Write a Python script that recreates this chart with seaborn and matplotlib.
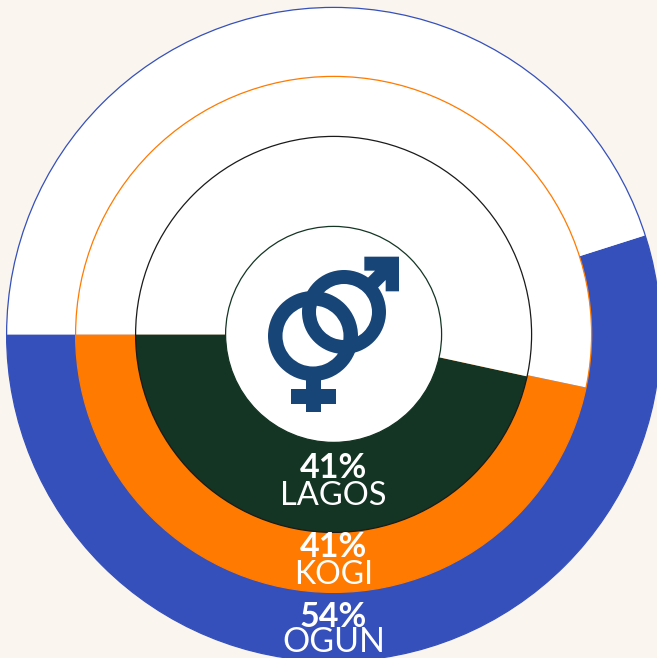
import matplotlib
matplotlib.use("Agg")
import matplotlib.pyplot as plt
from matplotlib.patches import Annulus, Circle, Polygon, Rectangle
import seaborn as sns

sns.set_theme(style="white")
plt.rcParams['font.family'] = ['Lato', 'DejaVu Sans']

# Data: rings from outside to inside; shares are the drawn sweep of each ring
states = ["OGUN", "KOGI", "LAGOS"]
labels = ["54%", "41%", "41%"]
shares = [54.9, 46.7, 46.6]
palette = ["#3550BB", "#FF7A00", "#143524"]
outlines = ["#3550BB", "#FF7A00", "#1A1A1A"]

BG = "#FAF5EF"
NAVY = "#174578"
W, H = 657, 658
CX, CY = 333.6, 334.4
radii = [327, 258, 198]
label_base = [(627, 652), (557, 584), (478, 505)]
name_size = [24.5, 23, 23.5]

def Y(py):
    return H - py

fig = plt.figure(figsize=(W / 100, H / 100), dpi=100, facecolor=BG)
ax = fig.add_axes([0, 0, 1, 1])

for share, color, edge, r in zip(shares, palette, outlines, radii):
    ax.pie([share, 100 - share], colors=[color, "white"], radius=r,
           center=(CX, Y(CY)), startangle=180, counterclock=True,
           wedgeprops=dict(linewidth=0))
    ax.add_patch(Circle((CX, Y(CY)), r, fill=False, ec=edge, lw=0.9, zorder=3))

# centre disc
ax.add_patch(Circle((CX, Y(CY)), 108, fc="white", ec=palette[2], lw=0.9, zorder=4))

# gender icon
ax.add_patch(Annulus((344, Y(312)), 42, 14, fc=NAVY, ec="none", zorder=5))
ax.add_patch(Annulus((313, Y(336)), 45, 14.5, fc=NAVY, ec="none", zorder=5))
ax.add_patch(Rectangle((306, Y(412)), 15, 33, fc=NAVY, ec="none", zorder=5))
ax.add_patch(Rectangle((291, Y(404)), 45, 15, fc=NAVY, ec="none", zorder=5))
arrow = [(433, 80), (537, 80), (537, 184), (497, 184), (497, 150), (470, 177),
         (441, 146), (465, 122), (433, 122)]
ax.add_patch(Polygon([(220 + x / 3, Y(230 + y / 3)) for x, y in arrow],
                     closed=True, fc=NAVY, ec="none", zorder=5))

# labels
for state, label, (b1, b2), fs in zip(states, labels, label_base, name_size):
    ax.text(CX, Y(b1), label, color="white", fontsize=24.5, fontweight="bold",
            ha="center", va="baseline", zorder=6)
    ax.text(CX, Y(b2), state, color="white", fontsize=fs,
            ha="center", va="baseline", zorder=6)

ax.set_xlim(0, W)
ax.set_ylim(0, H)
ax.set_aspect("equal")
ax.axis("off")
fig.savefig("out.png", dpi=100, facecolor=BG)
